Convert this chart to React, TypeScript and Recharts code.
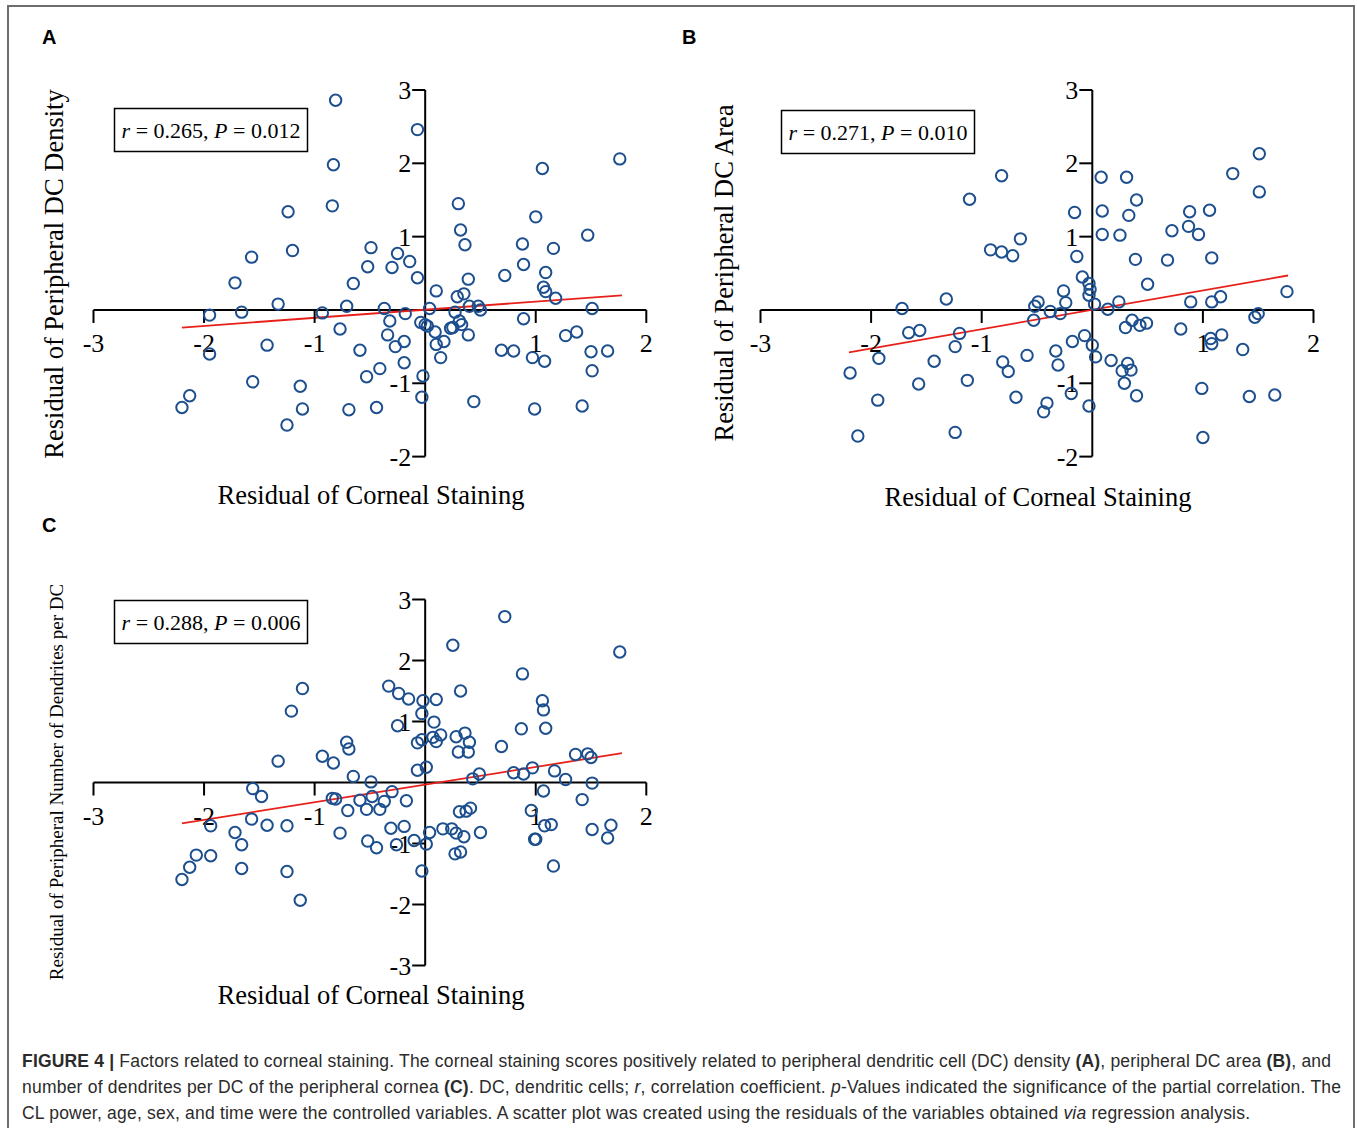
import { ScatterChart, Scatter, XAxis, YAxis, ReferenceLine } from 'recharts';

// residual pairs [corneal staining, outcome]
const densityPoints: [number, number][] = [
  [-0.81, 2.86], [-0.83, 1.98], [-0.84, 1.42], [-1.24, 1.34], [-1.2, 0.81], [-1.57, 0.72], [-0.49, 0.85],
  [-0.25, 0.77], [-0.52, 0.59], [-0.3, 0.58], [-0.14, 0.66], [-1.72, 0.37], [-0.65, 0.36], [-1.33, 0.08],
  [-0.71, 0.05], [-0.37, 0.02], [-0.18, -0.05], [-1.95, -0.07], [-1.66, -0.03], [-0.93, -0.04], [-0.32, -0.15],
  [-0.77, -0.26], [-0.34, -0.34], [-0.27, -0.5], [-0.19, -0.43], [-0.19, -0.72], [-1.43, -0.48], [-0.59, -0.55],
  [-1.95, -0.6], [-0.41, -0.8], [-0.53, -0.91], [-1.56, -0.98], [-1.13, -1.04], [-2.13, -1.17], [-2.2, -1.33],
  [-1.11, -1.35], [-0.69, -1.36], [-0.44, -1.33], [-1.25, -1.57],
  [-0.07, 2.46], [1.06, 1.93], [1.76, 2.06], [0.3, 1.45], [1.0, 1.27], [0.32, 1.09], [1.47, 1.02], [0.36, 0.89],
  [0.88, 0.9], [1.16, 0.84], [0.89, 0.62], [1.09, 0.51], [0.72, 0.47], [-0.07, 0.44], [0.39, 0.42], [0.1, 0.26],
  [1.07, 0.31], [1.09, 0.25], [0.35, 0.22], [0.29, 0.18], [1.18, 0.16], [0.04, 0.02], [0.4, 0.05], [0.48, 0.05],
  [0.5, 0.0], [0.27, -0.03], [1.51, 0.02], [0.89, -0.12], [-0.04, -0.17], [0.0, -0.2], [0.02, -0.22], [0.31, -0.15],
  [0.33, -0.2], [0.23, -0.25], [0.25, -0.24], [0.09, -0.3], [0.39, -0.34], [1.27, -0.35], [1.37, -0.3], [0.1, -0.47],
  [0.17, -0.43], [0.69, -0.55], [0.8, -0.56], [1.5, -0.57], [1.65, -0.56], [0.14, -0.65], [0.97, -0.65], [1.08, -0.7],
  [1.51, -0.83], [-0.02, -0.9], [-0.03, -1.19], [0.44, -1.25], [0.99, -1.35], [1.42, -1.31],
];

const areaPoints: [number, number][] = [
  [-0.82, 1.83], [-1.11, 1.51], [-0.65, 0.97], [-0.92, 0.82], [-0.82, 0.79], [-0.72, 0.74], [-0.16, 1.33],
  [-0.14, 0.73], [-0.09, 0.45], [-0.26, 0.26], [-0.24, 0.1], [-1.32, 0.15], [-1.72, 0.02], [-0.49, 0.11],
  [-0.52, 0.05], [-0.38, -0.02], [-0.29, -0.05], [-0.53, -0.14], [-1.66, -0.31], [-1.56, -0.28], [-1.2, -0.32],
  [-1.24, -0.5], [-1.93, -0.66], [-1.43, -0.7], [-0.81, -0.71], [-0.76, -0.84], [-0.59, -0.62], [-0.33, -0.56],
  [-0.31, -0.75], [-0.18, -0.43], [-2.19, -0.86], [-1.57, -1.01], [-1.13, -0.96], [-1.94, -1.23], [-0.69, -1.19],
  [-0.41, -1.27], [-0.44, -1.39], [-0.19, -1.14], [-2.12, -1.72], [-1.24, -1.67],
  [1.51, 2.13], [1.27, 1.86], [1.51, 1.61], [0.08, 1.81], [0.31, 1.81], [0.4, 1.5], [0.09, 1.35], [0.33, 1.29],
  [0.88, 1.34], [1.06, 1.36], [0.87, 1.14], [0.72, 1.08], [0.96, 1.03], [0.09, 1.03], [0.25, 1.02], [0.39, 0.69],
  [0.68, 0.68], [1.08, 0.71], [0.5, 0.35], [-0.03, 0.36], [-0.02, 0.28], [-0.03, 0.2], [0.02, 0.08], [0.24, 0.11],
  [0.14, 0.01], [0.89, 0.11], [1.08, 0.11], [1.16, 0.18], [1.76, 0.25], [1.5, -0.05], [1.47, -0.1], [0.36, -0.14],
  [0.3, -0.24], [0.43, -0.21], [0.49, -0.18], [0.8, -0.26], [-0.07, -0.35], [0.0, -0.48], [0.03, -0.64], [0.17, -0.69],
  [0.32, -0.73], [0.27, -0.83], [0.35, -0.82], [0.29, -1.0], [0.4, -1.17], [1.07, -0.39], [1.08, -0.46], [1.17, -0.34],
  [1.36, -0.54], [-0.03, -1.31], [0.99, -1.07], [1.42, -1.18], [1.65, -1.16], [1.0, -1.74],
];

const dendritePoints: [number, number][] = [
  [-1.11, 1.54], [-1.21, 1.17], [-0.33, 1.58], [-0.24, 1.46], [-0.15, 1.37], [-0.25, 0.93], [-0.71, 0.66],
  [-0.69, 0.55], [-0.93, 0.43], [-0.83, 0.32], [-1.33, 0.35], [-0.65, 0.1], [-0.49, 0.01], [-0.3, -0.15],
  [-1.56, -0.1], [-1.48, -0.23], [-0.84, -0.26], [-0.81, -0.27], [-0.59, -0.29], [-0.48, -0.23], [-0.37, -0.31],
  [-0.53, -0.44], [-0.41, -0.44], [-0.17, -0.3], [-0.7, -0.46], [-1.57, -0.6], [-1.43, -0.7], [-1.25, -0.71],
  [-0.77, -0.83], [-0.31, -0.75], [-0.19, -0.72], [-1.94, -0.71], [-1.72, -0.82], [-1.66, -1.02], [-0.52, -0.96],
  [-0.44, -1.07], [-0.26, -1.02], [-2.07, -1.19], [-1.94, -1.2], [-2.13, -1.39], [-2.2, -1.59], [-1.66, -1.41],
  [-1.25, -1.46], [-1.13, -1.93],
  [0.72, 2.72], [0.25, 2.25], [1.76, 2.14], [0.88, 1.78], [0.32, 1.5], [-0.02, 1.34], [0.1, 1.36], [1.06, 1.34],
  [1.07, 1.19], [-0.03, 1.13], [0.08, 0.99], [1.09, 0.89], [0.87, 0.88], [0.36, 0.81], [0.14, 0.78], [0.07, 0.74],
  [0.28, 0.75], [0.4, 0.66], [0.1, 0.67], [-0.03, 0.7], [-0.07, 0.65], [0.69, 0.59], [0.3, 0.5], [0.39, 0.5],
  [1.36, 0.46], [1.47, 0.47], [1.5, 0.41], [0.01, 0.25], [-0.07, 0.2], [0.49, 0.14], [0.43, 0.06], [0.8, 0.16],
  [0.89, 0.14], [0.97, 0.24], [1.17, 0.19], [1.27, 0.05], [1.51, -0.01], [1.07, -0.14], [1.42, -0.28], [0.31, -0.48],
  [0.37, -0.47], [0.41, -0.42], [0.96, -0.46], [0.04, -0.82], [0.16, -0.76], [0.24, -0.76], [0.28, -0.83],
  [0.35, -0.89], [0.5, -0.82], [1.08, -0.71], [1.14, -0.69], [1.51, -0.77], [1.68, -0.7], [1.65, -0.91],
  [-0.1, -0.95], [0.01, -1.01], [0.99, -0.93], [1.0, -0.93], [0.27, -1.17], [0.32, -1.14], [1.16, -1.37], [-0.03, -1.45],
];

// regression line end points
const densityFit: [number, number][] = [[-2.2, -0.24], [1.78, 0.2]];
const areaFit: [number, number][] = [[-2.2, -0.58], [1.77, 0.47]];
const dendriteFit: [number, number][] = [[-2.2, -0.67], [1.78, 0.48]];

const xTickLabels = ['-3', '-2', '-1', '1', '2'];
const yTickLabelsAB = ['3', '2', '1', '-1', '-2'];
const yTickLabelsC = ['3', '2', '1', '-1', '-2', '-3'];

const serif = '"Liberation Serif", "Times New Roman", serif';
const sans = '"Liberation Sans", Arial, sans-serif';
const BLUE = '#1d4f8e';

const Ring = (p: any) => (
  <circle cx={p.cx} cy={p.cy} r={5.7} fill="none" stroke={BLUE} strokeWidth={2} />
);

const XTick = (p: any) => (
  <g>
    <line x1={p.cx} y1={p.cy} x2={p.cx} y2={p.cy + 13} stroke="#000" strokeWidth={2} />
    <text x={p.cx} y={p.cy + 42} textAnchor="middle" fontFamily={serif} fontSize={26} fill="#000">
      {p.payload.t}
    </text>
  </g>
);

const YTick = (p: any) => (
  <g>
    <line x1={p.cx - 13} y1={p.cy} x2={p.cx} y2={p.cy} stroke="#000" strokeWidth={2} />
    <text x={p.cx - 14} y={p.cy + 9} textAnchor="end" fontFamily={serif} fontSize={26} fill="#000">
      {p.payload.t}
    </text>
  </g>
);

function Panel(props: {
  points: [number, number][];
  fit: [number, number][];
  yDomain: [number, number];
  yTicks: string[];
  left: number;
  top: number;
  width: number;
  height: number;
  margin: { top: number; right: number; bottom: number; left: number };
}) {
  const data = props.points.map(([x, y]) => ({ x, y }));
  const xt = xTickLabels.map((t) => ({ x: Number(t), y: 0, t }));
  const yt = props.yTicks.map((t) => ({ x: 0, y: Number(t), t }));
  return (
    <div style={{ position: 'absolute', left: props.left, top: props.top }}>
      <ScatterChart width={props.width} height={props.height} margin={props.margin}>
        <XAxis type="number" dataKey="x" domain={[-3, 2]} hide />
        <YAxis type="number" dataKey="y" domain={props.yDomain} hide />
        <ReferenceLine y={0} stroke="#000" strokeWidth={2} />
        <ReferenceLine x={0} stroke="#000" strokeWidth={2} />
        <ReferenceLine
          segment={[{ x: props.fit[0][0], y: props.fit[0][1] }, { x: props.fit[1][0], y: props.fit[1][1] }]}
          stroke="#e8201a"
          strokeWidth={1.8}
        />
        <Scatter data={xt} shape={XTick} isAnimationActive={false} />
        <Scatter data={yt} shape={YTick} isAnimationActive={false} />
        <Scatter data={data} shape={Ring} isAnimationActive={false} />
      </ScatterChart>
    </div>
  );
}

function StatBox(props: { x: number; y: number; r: string; p: string }) {
  return (
    <g>
      <rect x={props.x} y={props.y} width={193} height={43} fill="#fff" stroke="#000" strokeWidth={1.5} />
      <text x={props.x + 96.5} y={props.y + 29.5} textAnchor="middle" fontFamily={serif} fontSize={22}>
        <tspan fontStyle="italic">r</tspan> = {props.r}, <tspan fontStyle="italic">P</tspan> = {props.p}
      </text>
    </g>
  );
}

export default function App() {
  return (
    <div style={{ position: 'absolute', left: 0, top: 0, width: 1357, height: 1128, background: '#fff', overflow: 'hidden' }}>
      <Panel
        points={densityPoints} fit={densityFit} yDomain={[-2, 3]} yTicks={yTickLabelsAB}
        left={0} top={0} width={700} height={520}
        margin={{ top: 90, right: 53.7, bottom: 63.4, left: 93.5 }}
      />
      <Panel
        points={areaPoints} fit={areaFit} yDomain={[-2, 3]} yTicks={yTickLabelsAB}
        left={700} top={0} width={657} height={520}
        margin={{ top: 90, right: 43.5, bottom: 63.4, left: 60.5 }}
      />
      <Panel
        points={dendritePoints} fit={dendriteFit} yDomain={[-3, 3]} yTicks={yTickLabelsC}
        left={0} top={520} width={700} height={500}
        margin={{ top: 79.5, right: 53.7, bottom: 54.5, left: 93.5 }}
      />
      <svg width={1357} height={1128} style={{ position: 'absolute', left: 0, top: 0, pointerEvents: 'none' }}>
        <path d="M8 1130 V6 H1354 V1130" fill="none" stroke="#6d6d6d" strokeWidth={2} />
        <g fontFamily={sans} fontWeight="bold" fontSize={20} fill="#000">
          <text x={42} y={44}>A</text>
          <text x={682} y={44}>B</text>
          <text x={42} y={532}>C</text>
        </g>
        <g fontFamily={serif} fontSize={26.5} fill="#000" textAnchor="middle">
          <text x={371} y={504}>Residual of Corneal Staining</text>
          <text x={1038} y={506}>Residual of Corneal Staining</text>
          <text x={371} y={1004}>Residual of Corneal Staining</text>
          <text x={63} y={274} transform="rotate(-90 63 274)">Residual of Peripheral DC Density</text>
          <text x={733} y={273} transform="rotate(-90 733 273)">Residual of Peripheral DC Area</text>
          <text x={63} y={782} fontSize={19} transform="rotate(-90 63 782)">
            Residual of Peripheral Number of Dendrites per DC
          </text>
        </g>
        <StatBox x={114.5} y={108.5} r="0.265" p="0.012" />
        <StatBox x={781.5} y={110.5} r="0.271" p="0.010" />
        <StatBox x={114.5} y={600.5} r="0.288" p="0.006" />
        <g fontFamily={sans} fontSize={17.5} fill="#2b2b2b">
          <text x={22} y={1067} textLength={1309} lengthAdjust="spacing">
            <tspan fontWeight="bold">FIGURE 4 |</tspan> Factors related to corneal staining. The corneal staining scores
            positively related to peripheral dendritic cell (DC) density <tspan fontWeight="bold">(A)</tspan>, peripheral
            DC area <tspan fontWeight="bold">(B)</tspan>, and
          </text>
          <text x={22} y={1093} textLength={1319} lengthAdjust="spacing">
            number of dendrites per DC of the peripheral cornea <tspan fontWeight="bold">(C)</tspan>. DC, dendritic cells;{' '}
            <tspan fontStyle="italic">r</tspan>, correlation coefficient. <tspan fontStyle="italic">p</tspan>-Values
            indicated the significance of the partial correlation. The
          </text>
          <text x={22} y={1119} textLength={1228} lengthAdjust="spacing">
            CL power, age, sex, and time were the controlled variables. A scatter plot was created using the residuals
            of the variables obtained <tspan fontStyle="italic">via</tspan> regression analysis.
          </text>
        </g>
      </svg>
    </div>
  );
}
